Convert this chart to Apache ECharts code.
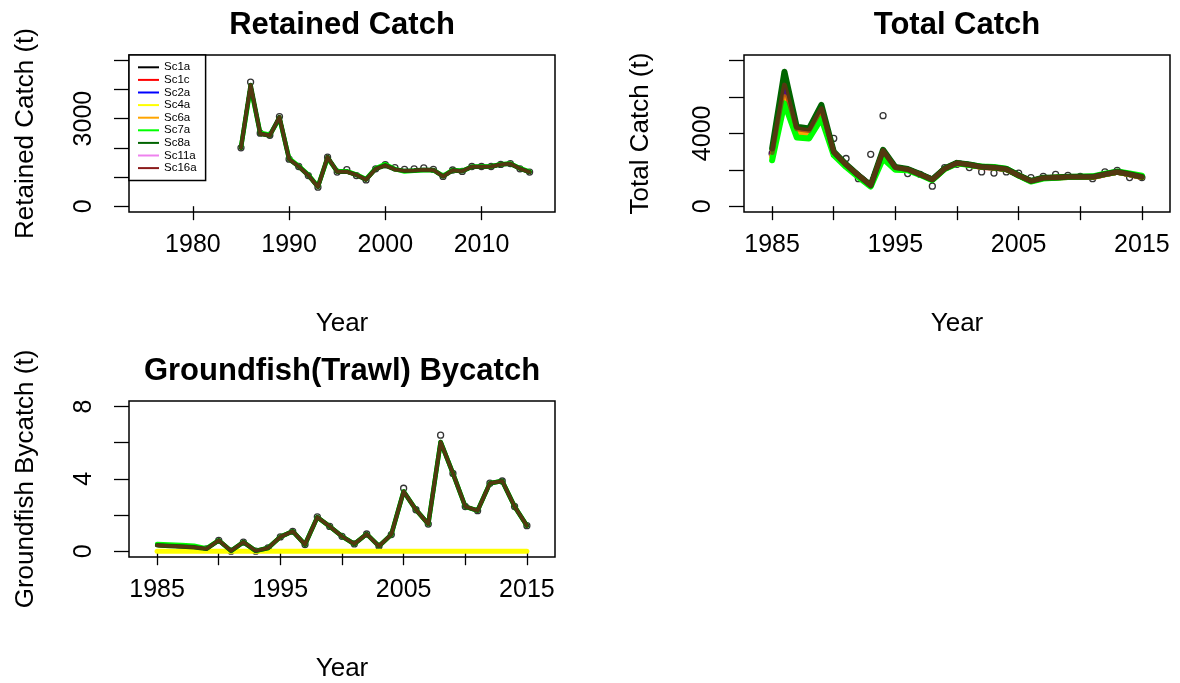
<!DOCTYPE html>
<html>
<head>
<meta charset="utf-8">
<script src="https://cdn.jsdelivr.net/npm/echarts@6/dist/echarts.min.js"></script>
<style>
  html, body { margin: 0; padding: 0; background: #fff; }
  #chart { width: 1180px; height: 683px; }
</style>
</head>
<body>
<div id="chart"></div>
<script>
// ---- data -------------------------------------------------------------
const years = [1985, 1986, 1987, 1988, 1989, 1990, 1991, 1992, 1993, 1994, 1995,
  1996, 1997, 1998, 1999, 2000, 2001, 2002, 2003, 2004, 2005,
  2006, 2007, 2008, 2009, 2010, 2011, 2012, 2013, 2014, 2015];

const scenarioNames = ['Sc1a', 'Sc1c', 'Sc2a', 'Sc4a', 'Sc6a', 'Sc7a', 'Sc8a', 'Sc11a', 'Sc16a'];
const scenarioColors = ['#000000', '#FF0000', '#0000FF', '#FFFF00', '#FFA500', '#00FF00', '#006400', '#EE82EE', '#8B1A1A'];

// Retained catch (t)
const retainedObs = [2000, 4250, 2500, 2430, 3070, 1610, 1360, 1050, 650, 1680, 1170,
  1250, 1050, 900, 1280, 1420, 1320, 1260, 1280, 1310, 1260,
  1020, 1240, 1190, 1360, 1360, 1360, 1430, 1460, 1280, 1170];
const retainedFit = [2000, 4150, 2480, 2420, 3050, 1610, 1360, 1060, 660, 1680, 1180,
  1180, 1070, 910, 1280, 1400, 1260, 1210, 1220, 1250, 1240,
  1020, 1230, 1200, 1350, 1350, 1360, 1430, 1450, 1290, 1170];
const retainedFitSc7a = [2020, 4050, 2520, 2450, 3000, 1640, 1380, 1080, 680, 1640, 1200,
  1200, 1080, 930, 1300, 1440, 1270, 1190, 1210, 1230, 1230,
  1040, 1240, 1210, 1350, 1360, 1370, 1440, 1460, 1300, 1180];

// Total catch (t)
const totalObs = [2900, 6500, 4200, 4100, 5300, 3720, 2620, 1510, 2850, 4970, 2100,
  1790, 1750, 1100, 2120, 2300, 2120, 1880, 1820, 1880, 1820,
  1570, 1640, 1750, 1690, 1640, 1510, 1880, 1970, 1570, 1570];
const totalSc1a = [2900, 6500, 4200, 4100, 5250, 2950, 2260, 1690, 1140, 3000, 2120,
  2020, 1750, 1460, 2060, 2370, 2280, 2150, 2120, 2030, 1690,
  1380, 1550, 1570, 1600, 1600, 1600, 1750, 1880, 1750, 1600];
const totalSc1c = [2880, 6300, 4150, 4050, 5200, 2950, 2250, 1690, 1140, 2980, 2110,
  2010, 1740, 1450, 2050, 2360, 2270, 2140, 2110, 2020, 1680,
  1370, 1540, 1560, 1590, 1590, 1590, 1740, 1870, 1740, 1590];
const totalSc2a = [2850, 6450, 4180, 4080, 5230, 2940, 2250, 1690, 1140, 2980, 2120,
  2020, 1750, 1460, 2060, 2370, 2280, 2150, 2120, 2030, 1690,
  1380, 1550, 1570, 1600, 1600, 1600, 1750, 1880, 1750, 1600];
const totalSc4a = [2700, 5950, 4000, 3950, 5050, 2880, 2200, 1650, 1110, 2800, 2080,
  2000, 1740, 1450, 2050, 2360, 2270, 2150, 2120, 2030, 1690,
  1380, 1550, 1570, 1600, 1600, 1600, 1750, 1870, 1750, 1600];
const totalSc6a = [2720, 6000, 4050, 3980, 5080, 2900, 2220, 1660, 1120, 2850, 2090,
  2010, 1740, 1450, 2050, 2360, 2270, 2150, 2120, 2030, 1690,
  1380, 1550, 1570, 1600, 1600, 1600, 1750, 1870, 1750, 1600];
const totalSc7a = [2520, 5650, 3770, 3720, 4820, 2800, 2150, 1600, 1080, 2615, 2000,
  1980, 1720, 1430, 2040, 2350, 2260, 2180, 2150, 2060, 1680,
  1350, 1520, 1560, 1600, 1620, 1640, 1780, 1900, 1800, 1680];
const totalSc8a = [3170, 7390, 4360, 4270, 5560, 3000, 2300, 1700, 1150, 3100, 2150,
  2040, 1760, 1470, 2070, 2380, 2290, 2160, 2130, 2040, 1700,
  1390, 1560, 1580, 1610, 1610, 1610, 1760, 1890, 1760, 1610];
const totalSc11a = [2750, 6100, 4080, 4000, 5120, 2900, 2220, 1660, 1120, 2880, 2100,
  2010, 1740, 1450, 2050, 2360, 2270, 2140, 2110, 2020, 1680,
  1370, 1540, 1560, 1590, 1590, 1590, 1740, 1870, 1740, 1590];
const totalSc16a = [2950, 6650, 4250, 4150, 5350, 2980, 2280, 1700, 1150, 3050, 2120,
  2020, 1750, 1460, 2060, 2370, 2280, 2150, 2120, 2030, 1690,
  1380, 1550, 1570, 1600, 1600, 1600, 1750, 1880, 1750, 1600];

// Groundfish (trawl) bycatch (t)
const bycatchObs = [null, null, null, null, 0.13, 0.6, 0.0, 0.5, 0.0, 0.18, 0.79,
  1.1, 0.37, 1.9, 1.37, 0.82, 0.4, 0.95, 0.28, 0.92, 3.48,
  2.29, 1.5, 6.41, 4.3, 2.47, 2.24, 3.76, 3.88, 2.47, 1.41];
const bycatchFit = [0.33, 0.29, 0.26, 0.22, 0.13, 0.6, 0.02, 0.5, 0.02, 0.18, 0.79,
  1.1, 0.37, 1.88, 1.37, 0.82, 0.4, 0.95, 0.28, 0.92, 3.3,
  2.29, 1.5, 6.04, 4.3, 2.47, 2.24, 3.76, 3.88, 2.47, 1.41];
const bycatchFitSc7a = [0.4, 0.37, 0.34, 0.3, 0.15, 0.6, 0.02, 0.5, 0.02, 0.18, 0.79,
  1.1, 0.37, 1.88, 1.37, 0.82, 0.4, 0.95, 0.28, 0.92, 3.3,
  2.29, 1.5, 6.04, 4.3, 2.47, 2.24, 3.76, 3.88, 2.47, 1.41];
const bycatchSc4a = [0, 0, 0, 0, 0, 0, 0, 0, 0, 0, 0,
  0, 0, 0, 0, 0, 0, 0, 0, 0, 0,
  0, 0, 0, 0, 0, 0, 0, 0, 0, 0];

// Tick positions and labelled ticks
const retainedXTicks = [1980, 1990, 2000, 2010];
const retainedXLabels = [1980, 1990, 2000, 2010];
const retainedYTicks = [0, 1000, 2000, 3000, 4000, 5000];
const retainedYLabels = [0, 3000];
const yearTicks = [1985, 1990, 1995, 2000, 2005, 2010, 2015];
const yearLabels = [1985, 1995, 2005, 2015];
const totalYTicks = [0, 2000, 4000, 6000, 8000];
const totalYLabels = [0, 4000];
const bycatchYTicks = [0, 2, 4, 6, 8];
const bycatchYLabels = [0, 4, 8];

// ---- per-panel scenario fits ---------------------------------------------
const retainedByScenario = {
  Sc1a: retainedFit, Sc1c: retainedFit, Sc2a: retainedFit, Sc4a: retainedFit, Sc6a: retainedFit,
  Sc7a: retainedFitSc7a, Sc8a: retainedFit, Sc11a: retainedFit, Sc16a: retainedFit
};
const totalByScenario = {
  Sc1a: totalSc1a, Sc1c: totalSc1c, Sc2a: totalSc2a, Sc4a: totalSc4a, Sc6a: totalSc6a,
  Sc7a: totalSc7a, Sc8a: totalSc8a, Sc11a: totalSc11a, Sc16a: totalSc16a
};
const bycatchByScenario = {
  Sc1a: bycatchFit, Sc1c: bycatchFit, Sc2a: bycatchFit, Sc4a: bycatchSc4a, Sc6a: bycatchFit,
  Sc7a: bycatchFitSc7a, Sc8a: bycatchFit, Sc11a: bycatchFit, Sc16a: bycatchFit
};

const FONT = '"Liberation Sans", Arial, Helvetica, sans-serif';
const pairs = (arr) => years.map((y, i) => [y, arr[i]]).filter(p => p[1] !== null);

function xAxisFor(gridIndex, min, max, ticks, labels) {
  return {
    type: 'value', gridIndex, min, max,
    axisLine: { show: false },
    splitLine: { show: false },
    axisTick: { show: true, customValues: ticks, length: 14, lineStyle: { color: '#000', width: 1.3 } },
    axisLabel: {
      customValues: labels, formatter: (v) => String(v), margin: 21,
      fontSize: 25, fontFamily: FONT, color: '#000'
    },
    name: 'Year', nameLocation: 'middle', nameGap: 99,
    nameTextStyle: { fontSize: 26, fontFamily: FONT, color: '#000' }
  };
}

function yAxisFor(gridIndex, min, max, ticks, labels, name, labelMargin) {
  return {
    type: 'value', gridIndex, min, max,
    axisLine: { show: false },
    splitLine: { show: false },
    axisTick: { show: true, customValues: ticks, length: 15, lineStyle: { color: '#000', width: 1.3 } },
    axisLabel: {
      customValues: labels, formatter: (v) => String(v), rotate: 90, margin: labelMargin,
      fontSize: 25, fontFamily: FONT, color: '#000'
    },
    name, nameLocation: 'middle', nameRotate: 90, nameGap: 90,
    nameTextStyle: { fontSize: 26, fontFamily: FONT, color: '#000' }
  };
}

// stacking order of the scenario lines: violet underneath, dark red on top
const lineZ = { Sc11a: 2 };

const series = [];
function addPanel(idx, obs, byScenario, widths) {
  series.push({
    type: 'scatter', name: 'observed', xAxisIndex: idx, yAxisIndex: idx,
    data: pairs(obs), symbol: 'circle', symbolSize: 6, z: 1,
    itemStyle: { color: 'rgba(255,255,255,0)', borderColor: '#000', borderWidth: 1.3 },
    silent: true
  });
  scenarioNames.forEach((name, k) => {
    series.push({
      type: 'line', name, xAxisIndex: idx, yAxisIndex: idx, z: lineZ[name] || 3,
      data: pairs(byScenario[name]), showSymbol: false, symbol: 'none',
      color: scenarioColors[k],
      lineStyle: {
        color: scenarioColors[k], width: widths[name] || widths.base,
        opacity: name === 'Sc16a' ? 0.6 : 1, cap: 'round', join: 'round'
      },
      silent: true
    });
  });
}

addPanel(0, retainedObs, retainedByScenario, { base: 3.5, Sc7a: 4.5, Sc8a: 4.5, Sc16a: 3.5, Sc11a: 2 });
addPanel(1, totalObs, totalByScenario, { base: 5.5, Sc7a: 6, Sc8a: 6, Sc16a: 5, Sc11a: 4 });
addPanel(2, bycatchObs, bycatchByScenario, { base: 3.5, Sc4a: 5, Sc7a: 4.5, Sc8a: 4.5, Sc16a: 3.5, Sc11a: 2 });

const gridStyle = { show: true, borderColor: '#000', borderWidth: 1.5, backgroundColor: 'transparent' };
const titleStyle = (text, x, y) => ({
  type: 'text', x, y, silent: true,
  style: { text, font: 'bold 31px ' + FONT, fill: '#000', align: 'center', verticalAlign: 'middle' }
});

const option = {
  animation: false,
  backgroundColor: '#fff',
  grid: [
    Object.assign({ left: 129, top: 55, width: 426, height: 157 }, gridStyle),
    Object.assign({ left: 744, top: 55, width: 426, height: 157 }, gridStyle),
    Object.assign({ left: 129, top: 401, width: 426, height: 157 }, gridStyle)
  ],
  xAxis: [
    xAxisFor(0, 1973.36, 2017.64, retainedXTicks, retainedXLabels),
    xAxisFor(1, 1982.72, 2017.28, yearTicks, yearLabels),
    xAxisFor(2, 1982.72, 2017.28, yearTicks, yearLabels)
  ],
  yAxis: [
    yAxisFor(0, -199, 5178, retainedYTicks, retainedYLabels, 'Retained Catch (t)', 32),
    yAxisFor(1, -320, 8305, totalYTicks, totalYLabels, 'Total Catch (t)', 28),
    yAxisFor(2, -0.32, 8.3, bycatchYTicks, bycatchYLabels, 'Groundfish Bycatch (t)', 32)
  ],
  legend: {
    left: 129, top: 55, orient: 'vertical',
    data: scenarioNames.map((n, k) => ({ name: n, itemStyle: { color: scenarioColors[k], opacity: 1 } })),
    icon: 'rect', itemWidth: 21, itemHeight: 2, itemGap: 0,
    padding: [6, 9, 6, 9],
    borderColor: '#000', borderWidth: 1.5, backgroundColor: '#fff',
    selectedMode: false,
    textStyle: { fontSize: 11.5, lineHeight: 12.6, fontFamily: FONT, color: '#000' }
  },
  graphic: [
    titleStyle('Retained Catch', 342, 25),
    titleStyle('Total Catch', 957, 25),
    titleStyle('Groundfish(Trawl) Bycatch', 342, 371)
  ],
  series
};

const chart = echarts.init(document.getElementById('chart'), null, { renderer: 'canvas' });
chart.setOption(option);
</script>
</body>
</html>
